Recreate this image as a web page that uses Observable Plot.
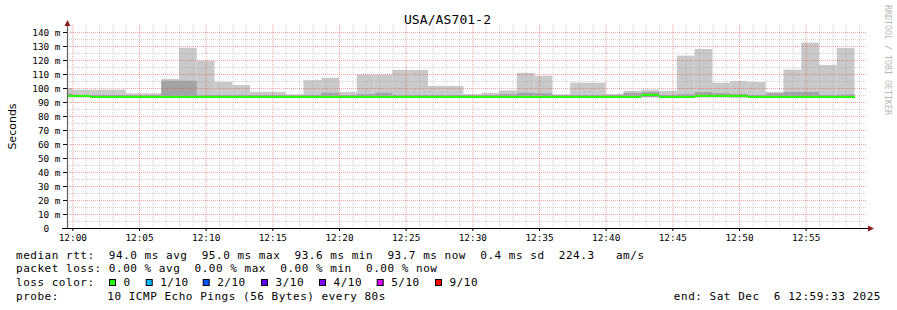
<!DOCTYPE html>
<html><head><meta charset="utf-8">
<script src="https://cdn.jsdelivr.net/npm/d3@7"></script>
<script src="https://cdn.jsdelivr.net/npm/@observablehq/plot@0.6"></script>
<style>
html,body{margin:0;padding:0;background:#fff;}
#chart{position:relative;width:897px;height:310px;overflow:hidden;}
#chart svg{display:block;}
</style></head><body><div id="chart"></div>
<script>
// ---- data ----
const title = "USA/AS701-2";
const yLabel = "Seconds";
const day = "2025-12-06";
const domainStart = "11:59:36";
const domainEnd = "12:59:36";
const stepSeconds = 80;
const binStart = ["11:58:40","12:00:00","12:01:20","12:02:40","12:04:00","12:05:20","12:06:40","12:08:00","12:09:20","12:10:40",
  "12:12:00","12:13:20","12:14:40","12:16:00","12:17:20","12:18:40","12:20:00","12:21:20","12:22:40","12:24:00",
  "12:25:20","12:26:40","12:28:00","12:29:20","12:30:40","12:32:00","12:33:20","12:34:40","12:36:00","12:37:20",
  "12:38:40","12:40:00","12:41:20","12:42:40","12:44:00","12:45:20","12:46:40","12:48:00","12:49:20","12:50:40",
  "12:52:00","12:53:20","12:54:40","12:56:00","12:57:20"];
// smoke: lowest ping, upper end of the dark inner band, highest ping (ms)
const minRtt = [93.5,93.4,93.3,93.3,93.3,93.4,93.4,93.3,93.3,93.3,93.3,93.3,93.2,93.3,93.3,93.3,93.3,93.3,93.3,93.3,
  93.3,93.3,93.3,93.3,93.3,93.3,93.3,93.3,93.3,93.3,93.3,93.3,93.3,93.4,93.3,93.3,93.4,93.4,93.3,93.3,
  93.3,93.3,93.3,93.3,93.3];
const midRtt = [96.0,95.0,95.0,95.0,95.0,95.0,105.2,105.2,95.0,95.0,95.0,95.0,95.0,94.8,95.0,96.6,95.0,95.6,96.6,95.0,
  95.0,95.0,95.0,95.0,95.0,95.6,96.6,96.2,95.0,95.0,95.0,95.0,96.4,97.1,95.0,95.5,97.1,96.2,95.7,95.0,
  96.2,97.1,97.1,95.0,95.3];
const maxRtt = [100.0,98.8,98.8,98.8,96.2,96.2,106.4,128.8,119.5,104.4,102.1,97.3,97.3,95.5,105.6,107.2,97.1,109.6,109.6,112.9,
  112.9,101.5,101.5,95.6,96.5,98.2,110.8,108.8,95.4,103.8,103.8,95.7,98.0,98.8,97.9,123.1,127.9,103.8,105.0,104.3,
  97.1,113.1,132.4,116.4,128.6];
const medianRtt = [94.5,94.5,94.0,94.0,94.0,94.0,94.0,94.0,94.0,94.0,94.0,94.0,94.0,93.9,94.0,94.0,94.0,94.0,94.1,94.0,
  94.0,94.0,94.0,94.0,94.0,94.0,94.0,94.0,93.6,94.0,94.0,94.0,94.0,95.0,94.1,94.0,94.8,94.8,94.3,94.0,
  94.0,94.0,94.0,94.0,93.7];
const yTicks = [0,10,20,30,40,50,60,70,80,90,100,110,120,130,140];
const statsLine = "median rtt:  94.0 ms avg  95.0 ms max  93.6 ms min  93.7 ms now  0.4 ms sd  224.3   am/s";
const lossLine = "packet loss: 0.00 % avg  0.00 % max  0.00 % min  0.00 % now";
const lossLabels = ["0","1/10","2/10","3/10","4/10","5/10","9/10"];
const lossColors = ["#26ff00","#00b8ff","#0059ff","#5e00ff","#7e00ff","#dd00ff","#ff0000"];
const probeText = "10 ICMP Echo Pings (56 Bytes) every 80s";
const endText = "end: Sat Dec  6 12:59:33 2025";
const watermark = "RRDTOOL / TOBI OETIKER";

// ---- build ----
const parse = d3.utcParse("%Y-%m-%d %H:%M:%S");
const bars = binStart.map((t, i) => {
  const s = parse(day + " " + t);
  return {start: s, end: new Date(s.getTime() + stepSeconds * 1000),
          lo: minRtt[i], mid: midRtt[i], hi: maxRtt[i], med: medianRtt[i]};
});
const tStart = parse(day + " " + domainStart), tEnd = parse(day + " " + domainEnd);
const minutes = d3.utcMinute.range(tStart, tEnd);
const xMajor = minutes.filter(d => d.getUTCMinutes() % 5 === 0);
const xMinor = minutes.filter(d => d.getUTCMinutes() % 5 !== 0);
const yMajor = yTicks.filter(d => d > 0);
const yMinor = yMajor.map(d => d - 5);

const mono = "'DejaVu Sans Mono', monospace";
const chartSvg = Plot.plot({
  width: 897, height: 310,
  marginLeft: 67, marginRight: 30, marginTop: 24, marginBottom: 82,
  style: {background: "#fff", fontFamily: mono, fontSize: "9.4px", color: "#000", overflow: "visible"},
  x: {type: "utc", domain: [tStart, tEnd]},
  y: {domain: [0, 145.71]},
  marks: [
    Plot.rect(bars, {x1: "start", x2: "end", y1: "lo", y2: "hi", fill: "#c9c9c9", inset: 0, clip: true}),
    Plot.rect(bars, {x1: "start", x2: "end", y1: "lo", y2: "mid", fill: "#a3a3a3", inset: 0, clip: true}),
    Plot.ruleY(yMinor, {stroke: "#a8a8a8", strokeOpacity: 0.5, strokeDasharray: "1,1"}),
    Plot.ruleX(xMinor, {stroke: "#a8a8a8", strokeOpacity: 0.5, strokeDasharray: "1,1"}),
    Plot.ruleY(yMajor, {stroke: "#e83030", strokeOpacity: 0.45, strokeDasharray: "1,1"}),
    Plot.ruleX(xMajor, {stroke: "#e83030", strokeOpacity: 0.45, strokeDasharray: "1,1"}),
    Plot.ruleY(bars, {x1: "start", x2: "end", y: "med", stroke: "#26ff00", strokeWidth: 2,
      shapeRendering: "crispEdges", clip: true}),
    Plot.axisY({ticks: yTicks, tickSize: 4, tickPadding: 3, label: null,
      tickFormat: d => d === 0 ? "0\u00a0\u00a0" : d + " m"}),
    Plot.axisX({ticks: xMajor, tickSize: 3, tickPadding: 3, label: null,
      tickFormat: d3.utcFormat("%H:%M")})
  ]
});
document.getElementById("chart").appendChild(chartSvg);

// ---- decorations: axis lines, arrows, texts ----
const svgSel = d3.select(chartSvg);
const sx = chartSvg.scale("x"), sy = chartSvg.scale("y");
const xLeft = sx.range[0], xRight = sx.range[1];
const yBase = sy.apply(0), yTopPx = sy.range[1];
svgSel.append("line").attr("x1", xLeft + 0.5).attr("x2", xLeft + 0.5).attr("y1", yBase).attr("y2", yTopPx - 3)
  .attr("stroke", "#606060").attr("stroke-width", 1.2);
svgSel.append("line").attr("x1", xLeft - 5).attr("x2", xRight + 1).attr("y1", yBase + 0.5).attr("y2", yBase + 0.5)
  .attr("stroke", "#000").attr("stroke-width", 1.2);
svgSel.append("path").attr("d", `M${xLeft - 2.5},${yTopPx + 2}L${xLeft + 3.5},${yTopPx + 2}L${xLeft + 0.5},${yTopPx - 4}Z`).attr("fill", "#8b1c1c");
svgSel.append("path").attr("d", `M${xRight + 1},${yBase - 2.5}L${xRight + 1},${yBase + 3.5}L${xRight + 7},${yBase + 0.5}Z`).attr("fill", "#8b1c1c");

function txt(s, x, y, opts = {}) {
  const t = svgSel.append("text").attr("x", x).attr("y", y).text(s)
    .attr("font-family", opts.family || mono).attr("font-size", opts.size || "11px")
    .attr("fill", opts.fill || "#000").style("white-space", "pre")
    .attr("text-anchor", opts.anchor || "start")
    .style("letter-spacing", opts.ls != null ? opts.ls : "0.52px");
  if (opts.transform) t.attr("transform", opts.transform);
  return t;
}
txt(title, 447.5, 24, {size: "13px", anchor: "middle", ls: "0.1px"});
txt(yLabel, 0, 0, {family: "'DejaVu Sans', sans-serif", size: "11px", anchor: "middle", ls: "0px",
  transform: "translate(15.5,126.5) rotate(-90)"});
txt(watermark, 0, 0, {size: "8.3px", fill: "#b8b8b8", ls: "0px", transform: "translate(885,5) rotate(90)"});
txt(statsLine, 16, 258.5);
txt(lossLine, 16, 272);
txt("loss color:", 16, 286);
const sqX = [109, 145.7, 202.7, 261, 319, 376.7, 435];
lossLabels.forEach((l, i) => {
  svgSel.append("rect").attr("x", sqX[i] + 0.5).attr("y", 279.5).attr("width", 6).attr("height", 6)
    .attr("fill", lossColors[i]).attr("stroke", "#000").attr("stroke-width", 1);
  txt(l, sqX[i] + 14.5, 286);
});
txt("probe:", 16, 300);
txt(probeText, 107.3, 300);
txt(endText, 881, 300, {anchor: "end"});
</script></body></html>
